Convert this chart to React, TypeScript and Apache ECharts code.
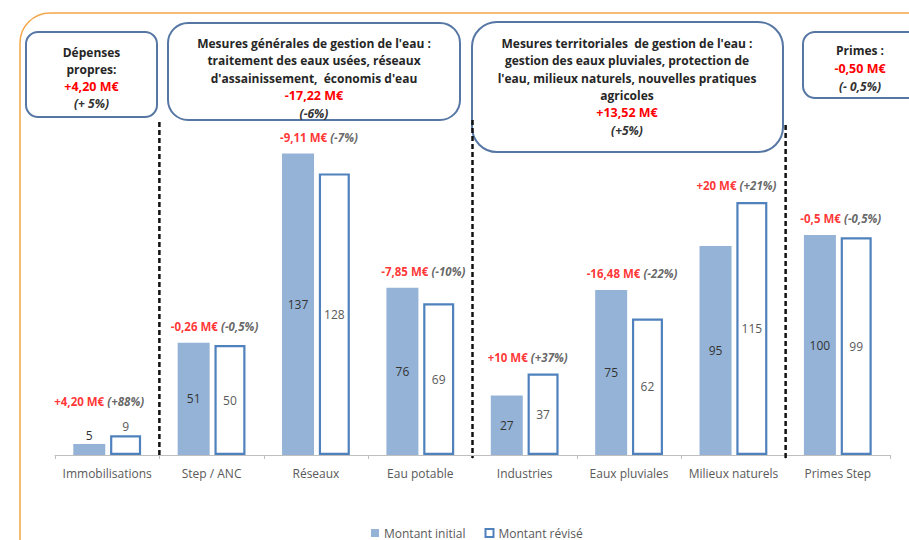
import React, { useEffect, useRef } from "react";
import * as echarts from "echarts";

const categories = ["Immobilisations", "Step / ANC", "Réseaux", "Eau potable", "Industries", "Eaux pluviales", "Milieux naturels", "Primes Step"];
const initialValues = [5, 51, 137, 76, 27, 75, 95, 100];
const revisedValues = [9, 50, 128, 69, 37, 62, 115, 99];
const changeAmounts = ["+4,20 M€", "-0,26 M€", "-9,11 M€", "-7,85 M€", "+10 M€", "-16,48 M€", "+20 M€", "-0,5 M€"];
const changePercents = ["(+88%)", "(-0,5%)", "(-7%)", "(-10%)", "(+37%)", "(-22%)", "(+21%)", "(-0,5%)"];
const seriesNames = ["Montant initial", "Montant révisé"];

const box1Lines = ["Dépenses", "propres:"];
const box1Amount = "+4,20 M€";
const box1Pct = "(+ 5%)";
const box2Lines = ["Mesures générales de gestion de l'eau :", "traitement des eaux usées, réseaux", "d'assainissement,  économis d'eau"];
const box2Amount = "-17,22 M€";
const box2Pct = "(-6%)";
const box3Lines = ["Mesures territoriales  de gestion de l'eau :", "gestion des eaux pluviales, protection de", "l'eau, milieux naturels, nouvelles pratiques", "agricoles"];
const box3Amount = "+13,52 M€";
const box3Pct = "(+5%)";
const box4Lines = ["Primes :"];
const box4Amount = "-0,50 M€";
const box4Pct = "(- 0,5%)";

const FONT = "'Open Sans', 'Liberation Sans', sans-serif";
const W = 909;
const H = 540;
const GRID_LEFT = 55;
const GRID_RIGHT = 19;
const GRID_BOTTOM = 85;
const Y_MAX = 160;
const GRID_TOP = 103;

function boxText(lines: string[], amount: string, pct: string) {
  const parts = lines.map((l) => `{b|${l}}`);
  parts.push(`{r|${amount}}`);
  parts.push(`{i|${pct}}`);
  return parts.join("\n");
}

function makeBox(x: number, y: number, w: number, h: number, r: number, cx: number, ty: number, lh: number, text: string) {
  const rich = {
    b: { fill: "#262626", fontSize: 12, fontWeight: "bold", fontFamily: FONT, lineHeight: lh },
    r: { fill: "#FF0000", fontSize: 12.5, fontWeight: "bold", fontFamily: FONT, lineHeight: lh },
    i: { fill: "#333333", fontSize: 12, fontWeight: "bold", fontStyle: "italic", fontFamily: FONT, lineHeight: lh },
  };
  return [
    {
      type: "rect",
      z: 10,
      shape: { x, y, width: w, height: h, r },
      style: { fill: "#fff", stroke: "#5677A4", lineWidth: 2 },
    },
    {
      type: "text",
      z: 11,
      x: cx,
      y: ty,
      style: { text, rich, align: "center", verticalAlign: "top", textAlign: "center", textVerticalAlign: "top" },
    },
  ];
}

export default function App() {
  const ref = useRef<HTMLDivElement>(null);
  useEffect(() => {
    if (!ref.current) return;
    const chart = echarts.init(ref.current, null, { renderer: "svg" });
    const catW = (W - GRID_LEFT - GRID_RIGHT) / categories.length;
    const sepX = [1, 4, 7].map((k) => GRID_LEFT + k * catW);
    const sepTop = [122, 120, 125];
    const annotValues = initialValues.map((v, i) => Math.max(v, revisedValues[i]));

    const graphics: any[] = [
      {
        type: "rect",
        z: 0,
        shape: { x: 20, y: 13, width: 1200, height: 1200, r: 30 },
        style: { fill: "none", stroke: "#F4A74A", lineWidth: 1.5 },
      },
      ...makeBox(26, 32, 131, 85, 12, 91.5, 43.5, 17, boxText(box1Lines, box1Amount, box1Pct)),
      ...makeBox(168, 23, 292, 97, 20, 314, 34.5, 17.5, boxText(box2Lines, box2Amount, box2Pct)),
      ...makeBox(472, 22, 311, 130, 25, 627, 34.5, 17.4, boxText(box3Lines, box3Amount, box3Pct)),
      ...makeBox(803, 32, 140, 66, 12, 860, 41, 18, boxText(box4Lines, box4Amount, box4Pct)),
      ...sepX.map((x, i) => ({
        type: "line",
        z: 12,
        shape: { x1: x, y1: sepTop[i], x2: x, y2: H - GRID_BOTTOM + 3 },
        style: { stroke: "#111", lineWidth: 2.5, lineDash: [5, 3] },
      })),
    ];

    chart.setOption({
      animation: false,
      textStyle: { fontFamily: FONT },
      grid: { left: GRID_LEFT, right: GRID_RIGHT, top: GRID_TOP, bottom: GRID_BOTTOM, containLabel: false },
      legend: {
        left: 366,
        top: 521,
        itemWidth: 8,
        itemHeight: 8,
        itemGap: 19,
        icon: "rect",
        textStyle: { color: "#595959", fontSize: 12, fontFamily: FONT, lineHeight: 14 },
        data: [
          { name: seriesNames[0], itemStyle: { color: "#95B3D7", borderWidth: 0 } },
          { name: seriesNames[1], itemStyle: { color: "#fff", borderColor: "#4F81BD", borderWidth: 2 } },
        ],
      },
      xAxis: {
        type: "category",
        data: categories,
        axisLine: { lineStyle: { color: "#BFBFBF", width: 1 } },
        axisTick: { show: true, length: 4, lineStyle: { color: "#BFBFBF" } },
        axisLabel: { color: "#595959", fontSize: 12, margin: 12, fontFamily: FONT, interval: 0 },
      },
      yAxis: { type: "value", min: 0, max: Y_MAX, show: false, splitLine: { show: false } },
      series: [
        {
          name: seriesNames[0],
          type: "bar",
          barWidth: 32,
          barGap: "15%",
          itemStyle: { color: "#95B3D7" },
          data: initialValues.map((v) => ({
            value: v,
            label: { position: v < 15 ? "top" : "inside", distance: 3 },
          })),
          label: { show: true, color: "#333", fontSize: 12, fontFamily: FONT },
        },
        {
          name: seriesNames[1],
          type: "bar",
          barWidth: 31,
          itemStyle: { color: "#fff", borderColor: "#4F81BD", borderWidth: 2.2 },
          data: revisedValues.map((v) => ({
            value: v,
            label: { position: v < 15 ? "top" : "inside", distance: 3 },
          })),
          label: { show: true, color: "#595959", fontSize: 12, fontFamily: FONT },
        },
        {
          name: "annotations",
          type: "scatter",
          symbolSize: 1,
          itemStyle: { color: "rgba(0,0,0,0)" },
          z: 5,
          data: annotValues.map((v) => ({
            value: v,
            label: { distance: v < 15 ? 27 : 10, offset: v < 15 ? [-8, 0] : [3, 0] },
          })),
          label: {
            show: true,
            position: "top",
            formatter: (p: any) => `{r|${changeAmounts[p.dataIndex]}} {i|${changePercents[p.dataIndex]}}`,
            rich: {
              r: { color: "#FF0000", fontSize: 11.5, fontWeight: "bold", fontFamily: FONT },
              i: { color: "#404040", fontSize: 11.5, fontStyle: "italic", fontWeight: "bold", fontFamily: FONT },
            },
          },
        },
      ],
      graphic: graphics,
    });
    return () => chart.dispose();
  }, []);
  return <div ref={ref} style={{ position: "fixed", left: 0, top: 0, width: W, height: H, background: "#fff" }} />;
}
